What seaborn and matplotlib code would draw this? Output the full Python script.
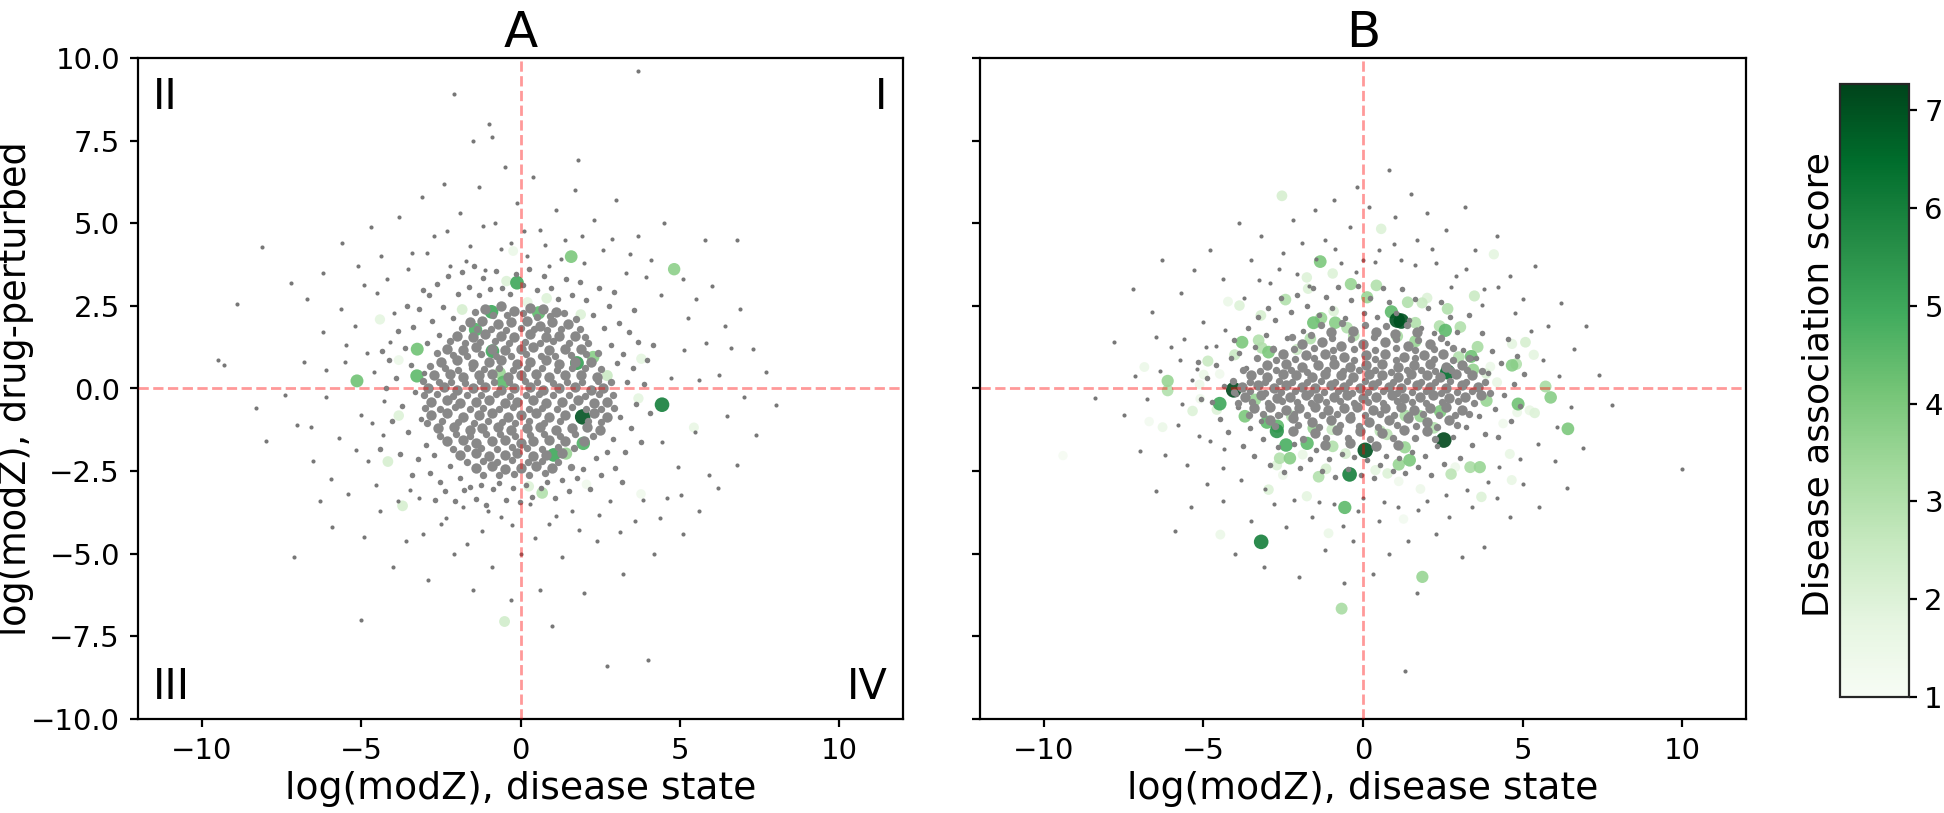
import numpy as np
import pandas as pd
import matplotlib
matplotlib.use('Agg')
import matplotlib.pyplot as plt
import seaborn as sns

# Values. (x, y, score)
a_scored = [
    (4.82, 3.61, 3.7), (-0.11, 3.2, 5), (1.59, 3.99, 4), (-0.91, 2.32, 5), (0.57, 2.29, 4.5),
    (-1.41, 1.78, 4.7), (-3.24, 1.19, 4.2), (-0.88, 1.13, 5), (1.77, 0.77, 5.2), (2.28, 0.95, 3.8),
    (-5.13, 0.23, 4.2), (-3.25, 0.38, 4.5), (-0.54, 0.19, 4.5), (-0.65, 0.47, 3.5), (4.44, -0.49, 6),
    (1.95, -0.86, 7), (1.97, -1.66, 4.7), (1.04, -2.01, 5), (1.43, -1.97, 3.5), (0.68, -3.16, 3),
    (-4.16, -2.21, 2.2), (-4.41, 2.09, 1.8), (-0.23, 4.16, 1.5), (5.44, -1.18, 1.6), (3.78, -3.19, 1.3),
    (2.07, -2.9, 1.3), (0.26, -2.96, 2), (-3.82, -0.82, 2), (-3.82, 0.86, 1.5), (-1.83, 2.39, 2.2),
    (1.89, 2.24, 2), (3.79, 0.9, 1.8), (3.7, -0.3, 1.8), (2.72, 0.39, 2.5), (0.82, 2.73, 2),
    (-0.44, 3.25, 2), (0.22, 2.61, 1.8), (-3.7, -3.55, 2.2), (-0.5, -7.05, 2.3),
]
b_scored = [
    (0.57, 4.83, 2), (4.1, 4.06, 1.8), (-1.34, 3.84, 4), (-0.95, 3.48, 2), (-1.76, 3.36, 2),
    (-0.38, 3.16, 3.5), (0.42, 3.12, 3), (0.13, 2.76, 3.5), (-1.72, 3.02, 2), (-2.43, 2.69, 3),
    (1.4, 2.61, 3), (3.49, 2.8, 2.5), (-4.23, 2.63, 1.5), (-3.87, 2.51, 2), (-3.2, 2.21, 2.2),
    (2.65, 2.41, 3), (0.89, 2.32, 4.5), (1.2, 2.04, 7), (1.07, 2.07, 7), (1.64, 1.99, 3),
    (-1.55, 1.99, 4.2), (-1.31, 2.13, 3.5), (-0.87, 1.99, 3.8), (2.58, 1.76, 4.5), (2.4, 1.89, 3),
    (3.05, 1.86, 3), (-0.29, 1.6, 3), (-3.79, 1.4, 4), (-3.27, 1.46, 3), (-2.96, 1.1, 4),
    (-3.17, 1.23, 3), (1.64, 1.43, 3.5), (3.59, 1.26, 3.2), (5.09, 1.4, 2.2), (4.67, 1.35, 1.8),
    (5.35, 1.02, 1.8), (-4.02, 1.02, 2.5), (-4.86, 0.83, 2.5), (3.39, 0.97, 4.2), (3.0, 0.95, 3),
    (4.67, 0.7, 3.8), (4.8, 0.74, 3), (3.45, 0.57, 3.5), (2.65, 0.5, 6.5), (-6.85, 0.65, 1.5),
    (-6.12, 0.23, 3.5), (-6.12, -0.06, 3), (-4.05, -0.04, 7.2), (5.72, 0.06, 3.2), (5.88, -0.27, 3.8),
    (4.86, -0.47, 4.2), (3.87, -0.37, 3.5), (-4.49, -0.46, 5), (-3.38, -0.34, 3.5), (-5.34, -0.68, 2),
    (5.38, -0.74, 2), (-3.7, -0.84, 4), (-3.01, -1.02, 4.5), (2.42, -0.69, 4), (6.42, -1.22, 4),
    (-6.28, -1.17, 1.5), (-2.68, -1.14, 4.5), (-2.7, -1.29, 5.5), (-1.55, -1.2, 3.5), (2.53, -1.56, 7.2),
    (-2.41, -1.71, 4.8), (-1.75, -1.66, 4.5), (-0.95, -1.75, 3), (0.07, -1.87, 7), (1.31, -1.78, 3.5),
    (-2.61, -2.11, 3), (-2.29, -2.11, 3.8), (1.12, -2.3, 3.5), (1.46, -2.17, 4), (3.36, -2.38, 3.2),
    (3.66, -2.38, 3.5), (-0.42, -2.6, 6), (-1.39, -2.67, 3), (2.76, -2.59, 2.8), (4.66, -2.77, 1.6),
    (3.71, -3.28, 2), (-2.96, -3.06, 2), (-0.57, -3.6, 4.5), (-3.19, -4.64, 6), (-4.47, -4.42, 1.5),
    (1.86, -5.7, 3.5), (-0.67, -6.66, 3.2), (-1.08, -4.38, 1.5), (1.27, -3.95, 1.2), (-2.54, 5.83, 2.2),
    (-9.4, -2.03, 1.1), (-6.7, -1.0, 1.2), (3.47, 0.58, 2.2), (3.99, 0.66, 1.5), (3.86, 0.45, 2),
    (4.2, 0.19, 1.6), (-4.99, 0.42, 1.5), (-4.49, 0.44, 1.3), (-5.12, 0.12, 1.5), (-5.1, -0.31, 1.3),
    (-4.58, -0.64, 2), (4.83, -0.72, 1.5), (5.22, -0.66, 1.6), (4.39, -1.06, 1.3), (4.6, -1.98, 1.6),
    (-1.89, -2.0, 1.6), (-2.7, -2.32, 2), (-2.51, -2.62, 1.4), (-1.16, -2.43, 2.2), (-0.55, -1.97, 2.2),
    (0.39, -2.47, 1.8), (0.77, -2.57, 2), (2.89, -2.38, 1.4), (1.12, -2.81, 1.3), (1.8, -3.04, 1.4),
    (-1.76, -3.26, 1.8), (-2.07, 1.18, 2.5), (-1.65, 1.51, 3), (-0.92, 2.34, 2), (-0.5, 1.84, 3),
    (1.07, 1.58, 3.2), (1.8, -0.84, 3.5), (1.33, -0.82, 3.2), (0.54, -1.29, 2.8), (0.75, -1.39, 2.8),
    (2.22, -1.19, 3), (-2.23, -0.84, 3), (-0.97, -1.24, 2.5), (1.85, 2.59, 2.5), (2.01, 2.74, 2),
]

# gray cloud, thinned: single dots outside, patches for the dense middle
a_gray_dots = [
    (-8.1, 4.29), (-8.9, 2.55), (-9.3, 0.7), (-9.5, 0.85), (-8.3, -0.6), (-8.0, -1.6), (-2.1, 8.9), (3.7, 9.6),
    (-1.0, 8.0), (-1.5, 7.5), (-0.9, 7.6), (1.8, 6.9), (5.8, 4.5), (6.8, 4.5), (2.7, -8.4), (4.0, -8.2),
    (1.0, -7.2), (-5.0, -7.0), (-7.1, -5.1), (-6.3, -3.4), (-7.2, 3.2), (-6.7, 2.7), (-6.2, 3.5), (-5.6, 4.4),
    (-5.1, 3.7), (-4.7, 4.9), (-4.2, 3.3), (-3.8, 5.2), (-3.4, 4.1), (-3.1, 5.8), (-2.7, 4.6), (-2.4, 6.2),
    (-2.2, 3.7), (-1.9, 5.3), (-1.6, 4.3), (-1.3, 6.1), (-1.1, 3.6), (-0.8, 5.0), (-0.5, 6.7), (-0.3, 4.4),
    (-0.1, 5.6), (0.2, 4.0), (0.4, 6.4), (0.6, 4.8), (0.9, 3.7), (1.1, 5.4), (1.4, 4.5), (1.7, 6.0),
    (2.0, 3.8), (2.3, 5.1), (2.6, 4.2), (3.0, 5.7), (3.3, 3.5), (3.7, 4.6), (4.1, 3.9), (4.5, 5.0),
    (5.1, 3.3), (5.5, 2.7), (6.0, 3.1), (6.4, 1.9), (6.9, 2.4), (7.3, 1.2), (7.7, 0.5), (8.0, -0.5),
    (7.4, -1.4), (6.8, -2.3), (6.2, -3.0), (5.6, -3.7), (5.1, -4.4), (4.6, -3.3), (4.2, -5.0), (3.6, -4.0),
    (3.2, -5.6), (2.8, -3.4), (2.4, -4.6), (2.0, -6.2), (1.6, -3.7), (1.3, -5.1), (0.9, -4.1), (0.6, -6.1),
    (0.3, -3.5), (0.0, -5.0), (-0.3, -6.4), (-0.6, -3.9), (-0.9, -5.4), (-1.2, -4.3), (-1.5, -6.1), (-1.8, -3.6),
    (-2.1, -5.0), (-2.5, -4.1), (-2.9, -5.8), (-3.2, -3.3), (-3.6, -4.6), (-4.0, -5.4), (-4.4, -3.7), (-4.9, -4.5),
    (-5.4, -3.2), (-5.9, -4.2), (-6.5, -2.2), (-7.0, -1.1), (-7.4, -0.2), (-6.8, 0.8), (-6.2, 1.7), (-5.7, -1.5),
    (-5.5, 0.8), (-5.2, 1.9), (-5.0, -0.8), (-4.8, -2.2), (-4.6, 0.5), (-4.5, 2.9), (-4.3, -1.4), (-4.1, 1.4),
    (-6.1, 0.57), (-5.63, 2.41), (-4.91, 3.13), (-4.37, 4.02), (-3.52, 3.63), (-2.93, 4.11), (-2.31, 4.77), (-1.72, 3.87),
    (-1.18, 4.92), (-0.62, 4.21), (0.11, 4.77), (0.78, 4.33), (1.27, 3.91), (1.93, 4.62), (2.88, 4.51), (3.42, 4.07),
    (3.93, 3.37), (4.41, 2.83), (5.27, 2.12), (5.83, 1.37), (6.22, 0.41), (5.47, -1.33), (5.92, -2.61), (5.03, -3.21),
    (4.37, -3.91), (3.83, -3.37), (3.12, -4.33), (2.47, -3.83), (1.82, -4.27), (1.11, -3.87), (0.47, -4.52), (-0.27, -4.13),
    (-1.03, -3.72), (-1.67, -4.71), (-2.33, -3.93), (-3.07, -4.41), (-3.83, -3.41), (-4.53, -2.93), (-5.17, -1.87), (-5.93, -2.73),
    (-6.57, -1.17), (-6.11, -0.27), (-5.47, 1.33), (-4.83, 1.07), (-4.27, -0.37), (-4.67, -1.03), (-3.97, 2.27), (-3.47, -3.07),
    (6.61, 1.23), (7.01, -0.27), (6.47, -0.83), (5.61, 0.27), (5.13, 1.17), (4.73, 0.33), (4.43, -1.63), (4.93, -2.37),
]
a_gray_mid = [
    (-3.9, 0.31), (-3.71, -0.52), (-3.63, 1.23), (-3.52, -1.31), (-3.44, 0.72), (-3.37, 1.87), (-3.31, -0.11), (-3.23, -2.13),
    (-3.17, 2.41), (-3.11, -0.93), (-3.03, 0.47), (-2.97, -1.71), (-2.93, 1.37), (-2.87, 2.83), (-2.83, -2.57), (-2.77, 2.03),
    (-2.71, -2.01), (-2.63, 3.17), (-2.57, 1.61), (-2.51, -2.83), (-2.43, 2.47), (-2.37, -3.11), (-2.29, 3.41), (-2.21, -2.33),
    (-2.13, 2.13), (-2.07, -3.41), (-1.97, 2.87), (-1.91, -2.71), (-1.83, 3.51), (-1.77, -3.07), (-1.63, 3.07), (-1.57, -2.97),
    (-1.47, 3.71), (-1.41, -3.33), (-1.31, 2.83), (-1.23, -2.93), (-1.17, 3.33), (-1.07, -3.51), (-0.97, 3.01), (-0.87, -3.03),
    (-0.77, 3.57), (-0.67, -2.87), (-0.57, 3.03), (-0.47, -3.37), (-0.33, 2.87), (-0.23, -3.01), (-0.13, 3.47), (-0.03, -3.43),
    (0.07, 3.13), (0.17, -2.91), (0.27, 3.61), (0.37, -3.27), (0.51, 2.97), (0.63, -3.01), (0.73, 3.41), (0.83, -2.83),
    (0.97, 3.03), (1.07, -3.31), (1.19, 2.71), (1.31, -2.77), (1.43, 3.31), (1.53, -3.11), (1.63, 2.83), (1.77, -2.71),
    (1.87, 3.21), (1.97, -2.43), (2.07, 2.67), (2.17, -3.03), (2.27, 2.21), (2.37, -2.11), (2.47, 3.03), (2.53, -2.63),
    (2.63, 1.83), (2.71, -1.91), (2.77, 2.51), (2.83, 1.31), (2.91, -1.53), (2.97, -2.41), (3.03, 0.77), (3.09, 1.97),
    (3.13, -0.87), (3.21, 1.03), (3.27, -1.93), (3.33, 0.21), (3.39, 1.71), (3.47, -1.21), (3.53, 0.63), (3.61, -0.47),
    (3.69, 1.41), (3.77, -1.63), (3.87, 0.13), (3.97, 0.87), (4.07, -0.73), (4.17, 1.31), (-4.13, 0.87), (-4.03, -0.97),
    (-4.21, 0.03), (-4.33, 1.13), (-4.41, -1.83), (-3.79, -1.97), (-3.83, 1.73), (-3.57, 2.51), (-3.41, -2.61), (3.57, 2.37),
    (2.93, 2.93), (3.17, -2.83), (-2.67, -3.37), (-3.07, 2.97),
]
a_gray_core = [
    (-1.1, 2.4), (-0.6, 2.5), (-0.2, 2.35), (0.3, 2.45), (0.7, 2.4), (1.1, 2.3),
    (-1.6, 2.0), (-1.2, 2.05), (-0.7, 1.95), (-0.3, 2.0), (0.2, 2.05), (0.6, 1.9), (1.0, 2.0), (1.5, 1.95),
    (-2.0, 1.6), (-1.5, 1.55), (-1.1, 1.65), (-0.6, 1.6), (-0.2, 1.55), (0.3, 1.65), (0.8, 1.55), (1.2, 1.6), (1.7, 1.6),
    (-2.3, 1.2), (-1.8, 1.15), (-1.4, 1.25), (-0.9, 1.2), (-0.5, 1.15), (0.0, 1.2), (0.4, 1.25), (0.9, 1.15), (1.4, 1.2), (1.9, 1.2),
    (-2.5, 0.8), (-2.0, 0.85), (-1.5, 0.75), (-1.0, 0.8), (-0.6, 0.85), (-0.1, 0.75), (0.3, 0.8), (0.8, 0.85), (1.2, 0.75), (1.7, 0.8), (2.2, 0.8),
    (-2.7, 0.4), (-2.2, 0.45), (-1.8, 0.35), (-1.3, 0.4), (-0.9, 0.45), (-0.4, 0.35), (0.0, 0.4), (0.5, 0.45), (0.9, 0.35), (1.4, 0.4), (1.9, 0.4), (2.4, 0.35),
    (-2.9, 0.0), (-2.4, 0.05), (-2.0, -0.05), (-1.5, 0.0), (-1.1, 0.05), (-0.6, -0.05), (-0.2, 0.0), (0.3, 0.05), (0.7, -0.05), (1.2, 0.0), (1.7, 0.05), (2.2, -0.05), (2.6, 0.0),
    (-2.8, -0.4), (-2.3, -0.35), (-1.9, -0.45), (-1.4, -0.4), (-1.0, -0.35), (-0.5, -0.45), (-0.1, -0.4), (0.4, -0.35), (0.8, -0.45), (1.3, -0.4), (1.8, -0.35), (2.3, -0.45), (2.7, -0.4),
    (-2.8, -0.8), (-2.3, -0.75), (-1.8, -0.85), (-1.3, -0.8), (-0.9, -0.75), (-0.4, -0.85), (0.0, -0.8), (0.5, -0.75), (0.9, -0.85), (1.4, -0.8), (2.3, -0.75), (2.7, -0.85),
    (-2.6, -1.2), (-2.1, -1.15), (-1.6, -1.25), (-1.2, -1.2), (-0.7, -1.15), (-0.3, -1.25), (0.2, -1.2), (0.6, -1.15), (1.1, -1.25), (1.6, -1.2), (2.1, -1.15), (2.5, -1.25),
    (-2.3, -1.6), (-1.8, -1.55), (-1.4, -1.65), (-0.9, -1.6), (-0.5, -1.55), (0.0, -1.65), (0.4, -1.6), (0.9, -1.55), (1.4, -1.6), (2.0, -1.6),
    (-1.9, -2.0), (-1.4, -1.95), (-1.0, -2.05), (-0.5, -2.0), (-0.1, -1.95), (0.4, -2.05), (0.8, -2.0), (1.3, -1.95),
    (-1.4, -2.4), (-0.9, -2.35), (-0.5, -2.45), (0.0, -2.4), (0.5, -2.35), (1.0, -2.4),
]
a_gray_fill = [
    (-1.43, 2.31), (-0.87, 2.21), (-0.41, 2.23), (0.07, 2.27), (0.52, 2.17), (0.93, 2.19), (1.37, 2.27), (1.73, 2.11),
    (-1.83, 1.83), (-1.37, 1.79), (-0.93, 1.81), (-0.47, 1.77), (0.03, 1.83), (0.43, 1.79), (0.83, 1.77), (1.27, 1.81), (1.87, 1.79), (2.03, 1.57),
    (-2.21, 1.43), (-1.73, 1.37), (-1.27, 1.41), (-0.81, 1.43), (-0.37, 1.37), (0.13, 1.41), (0.61, 1.39), (1.03, 1.43), (1.53, 1.37), (2.11, 1.39),
    (-2.61, 1.07), (-2.13, 1.01), (-1.67, 0.97), (-1.23, 1.03), (-0.77, 0.99), (-0.31, 0.97), (0.17, 1.03), (0.63, 0.99), (1.07, 0.97), (1.57, 1.01), (2.07, 1.03), (2.43, 1.07),
    (-2.83, 0.67), (-2.37, 0.61), (-1.97, 0.57), (-1.53, 0.63), (-1.13, 0.59), (-0.67, 0.63), (-0.23, 0.57), (0.21, 0.61), (0.69, 0.63), (1.13, 0.57), (1.63, 0.61), (2.03, 0.63), (2.53, 0.59),
    (-3.07, 0.23), (-2.57, 0.21), (-2.17, 0.19), (-1.73, 0.17), (-1.27, 0.23), (-0.83, 0.21), (-0.37, 0.19), (0.13, 0.23), (0.53, 0.21), (1.03, 0.17), (1.47, 0.21), (1.93, 0.19), (2.43, 0.23), (2.83, 0.21),
    (-3.03, -0.19), (-2.63, -0.17), (-2.13, -0.23), (-1.67, -0.19), (-1.23, -0.21), (-0.77, -0.17), (-0.33, -0.23), (0.17, -0.19), (0.57, -0.17), (1.03, -0.21), (1.53, -0.19), (2.03, -0.23), (2.47, -0.17), (2.91, -0.21),
    (-3.01, -0.59), (-2.53, -0.61), (-2.07, -0.57), (-1.57, -0.63), (-1.17, -0.59), (-0.67, -0.61), (-0.23, -0.57), (0.27, -0.63), (0.67, -0.59), (1.13, -0.61), (1.63, -0.57), (2.07, -0.61), (2.53, -0.63), (2.93, -0.59),
    (-2.93, -1.03), (-2.47, -0.97), (-1.97, -1.01), (-1.47, -1.03), (-1.03, -0.97), (-0.57, -1.01), (-0.17, -1.03), (0.27, -0.97), (0.73, -1.03), (1.23, -0.99), (2.13, -0.97), (2.53, -1.01),
    (-2.53, -1.43), (-2.03, -1.37), (-1.57, -1.43), (-1.07, -1.39), (-0.63, -1.37), (-0.17, -1.43), (0.31, -1.41), (0.73, -1.37), (1.23, -1.43), (1.71, -1.39), (2.27, -1.43),
    (-2.13, -1.83), (-1.67, -1.79), (-1.23, -1.81), (-0.73, -1.83), (-0.27, -1.77), (0.21, -1.81), (0.67, -1.83), (1.17, -1.77), (1.67, -1.81),
    (-1.67, -2.23), (-1.17, -2.19), (-0.73, -2.21), (-0.27, -2.17), (0.23, -2.23), (0.67, -2.19), (1.17, -2.21), (1.57, -2.37),
    (-1.17, -2.61), (-0.67, -2.63), (-0.21, -2.59), (0.27, -2.63), (0.77, -2.57),
]
b_gray_dots = [
    (-7.8, 1.4), (-8.4, -0.3), (-7.2, 3.0), (-6.6, 2.3), (-6.3, 3.9), (-5.7, 2.9), (-5.3, 3.6), (-4.8, 4.2),
    (-4.4, 3.3), (-3.9, 5.0), (-3.5, 3.9), (-3.2, 4.6), (-2.9, 3.2), (-2.5, 4.1), (-2.2, 5.1), (-1.9, 4.4),
    (-1.7, 3.1), (-1.5, 5.4), (-1.2, 4.5), (-0.9, 5.7), (-0.7, 3.8), (-0.4, 4.9), (-0.2, 6.1), (0.0, 3.9),
    (0.2, 5.5), (0.5, 4.2), (0.8, 6.6), (1.0, 5.2), (1.2, 3.9), (1.5, 5.9), (1.7, 4.5), (2.0, 5.3),
    (2.3, 3.8), (2.6, 4.8), (2.9, 3.4), (3.2, 5.5), (3.5, 4.2), (3.8, 3.0), (4.2, 4.6), (4.6, 3.4),
    (5.0, 2.7), (5.4, 3.7), (5.8, 1.9), (6.2, 2.6), (6.6, 1.2), (7.0, 1.9), (7.4, 0.4), (7.8, -0.5),
    (10.0, -2.45), (6.9, -1.8), (6.4, -3.0), (6.0, -2.2), (5.5, -3.6), (5.0, -2.9), (4.6, -3.9), (4.2, -3.3),
    (3.8, -4.8), (3.4, -3.6), (3.1, -5.1), (2.7, -3.9), (2.3, -4.4), (2.0, -3.4), (1.7, -6.2), (1.4, -4.6),
    (1.1, -3.6), (0.8, -5.0), (0.5, -4.0), (0.3, -5.6), (0.0, -3.3), (-0.3, -4.6), (-0.6, -5.9), (-0.9, -3.5),
    (-1.2, -4.9), (-1.6, -3.9), (-2.0, -5.7), (-2.4, -4.2), (-2.8, -3.5), (-3.1, -5.4), (-3.5, -4.0), (-4.0, -5.0),
    (-4.4, -3.4), (-4.9, -2.9), (-5.4, -3.6), (-5.9, -4.3), (-6.5, -3.1), (-7.0, -1.9), (-7.5, -0.8), (-6.2, -2.0),
    (-5.8, -1.1), (-5.6, 1.5), (-5.5, -2.3), (-5.2, 0.6), (-5.0, 2.0), (-4.8, -1.6), (-4.6, 1.3), (-4.4, -2.4),
    (1.31, -8.55), (-0.63, -4.17), (-0.17, -3.71), (0.67, -3.43), (1.73, -3.67), (2.61, -3.23), (3.27, -3.07), (3.91, -2.83),
    (-1.37, -3.43), (-2.17, -3.37), (-3.07, -3.03), (-3.83, -2.77), (-4.37, -1.83), (-5.13, -1.43), (-5.67, -0.47), (-5.37, 0.27),
    (-5.73, 0.87), (-4.93, 1.27), (-4.33, 1.77), (-3.73, 2.73), (-3.27, 3.27), (-2.63, 3.63), (-2.07, 3.47), (-1.47, 3.93),
    (-0.87, 4.23), (-0.23, 3.53), (0.37, 3.83), (0.97, 4.37), (1.63, 3.73), (2.17, 4.23), (2.77, 3.07), (3.23, 3.63),
    (3.73, 2.53), (4.23, 3.07), (4.77, 2.27), (5.27, 1.73), (5.63, 0.87), (6.13, 0.37), (6.53, -0.57), (6.07, -1.17),
    (5.47, -1.67), (4.93, -2.13), (4.27, -2.37), (-6.77, -0.33), (-6.37, 0.53), (-6.03, 1.27), (-6.47, 1.57), (-7.13, 0.37),
]
b_gray_mid = [
    (-4.9, 0.33), (-4.73, -0.41), (-4.61, 0.71), (-4.47, -0.93), (-4.37, 0.07), (-4.23, -1.33), (-4.13, 0.93), (-4.03, 1.47),
    (-3.93, -0.57), (-3.87, 1.07), (-3.77, -1.73), (-3.67, 0.63), (-3.61, 1.83), (-3.53, -1.21), (-3.43, -2.03), (-3.37, 1.27),
    (-3.29, 2.17), (-3.21, -0.97), (-3.13, -1.53), (-3.03, 1.63), (-2.97, 2.43), (-2.91, -2.31), (-2.83, 1.23), (-2.77, 2.07),
    (-2.67, -1.77), (-2.57, 2.73), (-2.47, -2.53), (-2.37, 1.53), (-2.27, 2.31), (-2.17, -1.67), (-2.07, 2.83), (-1.97, -2.41),
    (-1.87, 1.73), (-1.77, 2.51), (-1.67, -2.13), (-1.57, 3.03), (-1.47, -1.87), (-1.37, 2.23), (-1.27, -2.51), (-1.17, 2.77),
    (-1.07, -2.13), (-0.97, 2.43), (-0.87, -2.67), (-0.77, 3.07), (-0.67, -1.97), (-0.57, 2.13), (-0.47, -2.43), (-0.37, 2.67),
    (-0.27, -2.07), (-0.17, 3.11), (-0.07, -2.61), (0.03, 2.27), (0.13, -2.17), (0.23, 2.73), (0.33, -2.71), (0.43, 2.17),
    (0.53, -2.31), (0.63, 3.03), (0.73, -2.03), (0.83, 2.61), (0.93, -2.51), (1.03, 2.27), (1.13, -2.09), (1.23, 3.01),
    (1.33, -2.57), (1.43, 2.07), (1.53, -1.93), (1.63, 2.71), (1.73, -2.37), (1.83, 1.83), (1.93, -2.03), (2.03, 2.43),
    (2.13, -2.61), (2.23, 1.67), (2.33, -1.73), (2.43, 2.61), (2.53, -2.27), (2.63, 1.37), (2.73, 2.17), (2.83, -1.47),
    (2.93, 1.71), (3.03, -2.11), (3.13, 1.17), (3.23, -1.17), (3.33, 2.23), (3.43, -1.71), (3.53, 0.91), (3.63, -0.83),
    (3.73, 1.67), (3.83, -1.37), (3.93, 0.47), (4.03, 1.13), (4.13, -0.61), (4.23, -1.47), (4.33, 0.77), (4.43, -0.21),
    (4.53, 1.51), (4.63, -0.97), (4.73, 0.13), (4.83, 0.97), (4.93, -0.53), (5.03, 0.43), (-5.07, -0.33), (-5.17, 0.81),
    (-2.61, -0.81), (3.37, 0.93), (-3.57, 0.21), (-3.97, -0.17),
]
b_gray_core = [
    (-1.0, 1.7), (-0.3, 1.75), (0.4, 1.7), (1.0, 1.65), (1.7, 1.7),
    (-1.9, 1.35), (-1.3, 1.4), (-0.7, 1.3), (0.0, 1.35), (0.7, 1.4), (1.4, 1.3), (2.1, 1.35),
    (-2.5, 1.05), (-1.8, 1.0), (-1.2, 1.05), (-0.6, 0.95), (0.1, 1.0), (0.7, 1.05), (1.3, 0.95), (1.9, 1.0), (2.5, 1.05),
    (-3.0, 0.7), (-2.4, 0.75), (-1.9, 0.65), (-1.4, 0.7), (-0.9, 0.75), (-0.4, 0.65), (0.1, 0.7), (0.6, 0.75), (1.1, 0.65), (1.6, 0.7), (2.1, 0.75), (2.6, 0.65), (3.1, 0.7),
    (-3.5, 0.4), (-3.0, 0.35), (-2.5, 0.45), (-2.1, 0.4), (-1.6, 0.35), (-1.2, 0.45), (-0.7, 0.4), (-0.3, 0.35), (0.2, 0.45), (0.6, 0.4), (1.1, 0.35), (1.5, 0.45), (2.0, 0.4), (2.4, 0.35), (2.9, 0.45), (3.4, 0.4),
    (-3.8, 0.05), (-3.3, 0.1), (-2.8, 0.0), (-2.4, 0.1), (-1.9, 0.05), (-1.5, 0.0), (-1.0, 0.1), (-0.6, 0.05), (-0.1, 0.0), (0.3, 0.1), (0.8, 0.05), (1.2, 0.0), (1.7, 0.1), (2.1, 0.05), (2.6, 0.0), (3.1, 0.1), (3.6, 0.05),
    (-3.7, -0.25), (-3.2, -0.2), (-2.7, -0.3), (-2.3, -0.25), (-1.8, -0.2), (-1.4, -0.3), (-0.9, -0.25), (-0.5, -0.2), (0.0, -0.3), (0.4, -0.25), (0.9, -0.2), (1.3, -0.3), (1.8, -0.25), (2.2, -0.2), (2.7, -0.3), (3.2, -0.25), (3.7, -0.2),
    (-3.4, -0.6), (-2.9, -0.55), (-2.4, -0.65), (-2.0, -0.6), (-1.5, -0.55), (-1.1, -0.65), (-0.6, -0.6), (-0.2, -0.55), (0.3, -0.65), (0.7, -0.6), (1.2, -0.55), (1.6, -0.65), (2.1, -0.6), (2.6, -0.55), (3.1, -0.65),
    (-2.9, -0.95), (-2.2, -0.9), (-1.6, -1.0), (-1.0, -0.95), (-0.4, -0.9), (0.2, -1.0), (0.8, -0.95), (1.4, -0.9), (2.0, -1.0), (2.7, -0.95),
    (-2.2, -1.3), (-1.5, -1.35), (-0.8, -1.25), (-0.1, -1.3), (0.6, -1.35), (1.3, -1.25), (2.0, -1.3),
    (-1.2, -1.7), (-0.4, -1.65), (0.4, -1.75), (1.1, -1.7),
]
b_gray_fill = [
    (-1.33, 1.93), (-0.67, 1.97), (0.07, 1.93), (0.73, 1.89), (1.37, 1.91),
    (-2.23, 1.57), (-1.63, 1.61), (-0.97, 1.53), (-0.37, 1.51), (0.33, 1.57), (1.03, 1.51), (1.73, 1.47), (2.43, 1.53),
    (-2.83, 1.21), (-2.17, 1.19), (-1.53, 1.23), (-0.93, 1.17), (-0.27, 1.21), (0.37, 1.17), (1.03, 1.23), (1.63, 1.17), (2.23, 1.19), (2.83, 1.23),
    (-3.33, 0.91), (-2.73, 0.87), (-2.13, 0.89), (-1.53, 0.91), (-0.93, 0.93), (-0.27, 0.87), (0.37, 0.89), (1.03, 0.87), (1.63, 0.91), (2.23, 0.89), (2.83, 0.87), (3.33, 0.91),
    (-3.77, 0.57), (-3.23, 0.53), (-2.73, 0.57), (-2.27, 0.55), (-1.77, 0.51), (-1.13, 0.57), (-0.63, 0.53), (-0.13, 0.55), (0.37, 0.57), (0.87, 0.51), (1.37, 0.55), (1.83, 0.57), (2.27, 0.53), (2.77, 0.55), (3.27, 0.57), (3.73, 0.53),
    (-4.07, 0.23), (-3.53, 0.21), (-3.07, 0.19), (-2.63, 0.23), (-2.23, 0.21), (-1.77, 0.19), (-1.33, 0.23), (-0.87, 0.21), (-0.43, 0.19), (0.07, 0.23), (0.47, 0.21), (0.93, 0.19), (1.37, 0.23), (1.83, 0.21), (2.27, 0.19), (2.73, 0.23), (3.23, 0.21), (3.83, 0.19),
    (-4.03, -0.11), (-3.53, -0.09), (-3.07, -0.13), (-2.57, -0.11), (-2.13, -0.09), (-1.67, -0.13), (-1.23, -0.11), (-0.77, -0.09), (-0.33, -0.13), (0.17, -0.11), (0.63, -0.09), (1.07, -0.13), (1.53, -0.11), (1.97, -0.09), (2.43, -0.13), (2.93, -0.11), (3.43, -0.09), (3.97, -0.13),
    (-3.93, -0.43), (-3.47, -0.41), (-2.97, -0.43), (-2.53, -0.39), (-2.07, -0.41), (-1.63, -0.43), (-1.17, -0.41), (-0.73, -0.39), (-0.27, -0.43), (0.17, -0.41), (0.63, -0.43), (1.07, -0.39), (1.53, -0.41), (1.97, -0.43), (2.47, -0.41), (2.97, -0.39), (3.47, -0.43),
    (-3.57, -0.79), (-3.13, -0.77), (-2.67, -0.81), (-2.17, -0.77), (-1.77, -0.79), (-1.27, -0.81), (-0.83, -0.77), (-0.37, -0.79), (0.07, -0.81), (0.53, -0.77), (0.97, -0.79), (1.43, -0.81), (1.87, -0.77), (2.37, -0.79), (2.87, -0.81), (3.33, -0.77),
    (-2.77, -1.13), (-2.03, -1.11), (-1.37, -1.17), (-0.73, -1.11), (-0.13, -1.13), (0.47, -1.17), (1.07, -1.11), (1.67, -1.13), (2.33, -1.17), (2.93, -1.11),
    (-1.87, -1.53), (-1.17, -1.51), (-0.47, -1.49), (0.23, -1.53), (0.93, -1.51), (1.63, -1.49), (2.27, -1.53),
]

x_ticks = [-10, -5, 0, 5, 10]
y_ticks = [-10.0, -7.5, -5.0, -2.5, 0.0, 2.5, 5.0, 7.5, 10.0]
cbar_ticks = [1, 2, 3, 4, 5, 6, 7]
score_min, score_max = 1, 7.27
panels = [('A', a_scored, a_gray_dots, a_gray_mid, a_gray_core, a_gray_fill),
          ('B', b_scored, b_gray_dots, b_gray_mid, b_gray_core, b_gray_fill)]
quadrants = [('II', 0.02, 0.923, 'left'), ('I', 0.98, 0.923, 'right'),
             ('III', 0.02, 0.03, 'left'), ('IV', 0.98, 0.03, 'right')]

sns.set_style('ticks')
plt.rcParams['font.family'] = 'DejaVu Sans'
plt.rcParams.update({'text.color': 'black', 'axes.labelcolor': 'black',
                     'xtick.color': 'black', 'ytick.color': 'black'})

W, H = 1944, 813
fig = plt.figure(figsize=(W / 200, H / 200), dpi=200)
ax_a = fig.add_axes([138 / W, 1 - 719 / H, 765 / W, 661 / H])
ax_b = fig.add_axes([980 / W, 1 - 719 / H, 766 / W, 661 / H])
cax = fig.add_axes([1840 / W, 1 - 697 / H, 69 / W, 613 / H])

for ax, (name, scored, dots, mid, core, fill) in zip([ax_a, ax_b], panels):
    sc = pd.DataFrame(scored, columns=['x', 'y', 'score'])
    sns.scatterplot(data=sc.sort_values('score'), x='x', y='y', hue='score', size='score',
                    palette='Greens', hue_norm=(score_min, score_max),
                    sizes=(11, 32), size_norm=(score_min, score_max),
                    linewidth=0, alpha=0.9, legend=False, ax=ax, zorder=1)
    d = pd.DataFrame(dots, columns=['x', 'y'])
    sns.scatterplot(data=d, x='x', y='y', color='#777777', s=2.2, linewidth=0, ax=ax, zorder=2)
    m = pd.DataFrame(mid, columns=['x', 'y'])
    sns.scatterplot(data=m, x='x', y='y', color='#808080', s=4, linewidth=0, ax=ax, zorder=2)
    c = pd.DataFrame(core, columns=['x', 'y'])
    sns.scatterplot(data=c, x='x', y='y', color='#888888', s=14, linewidth=0, ax=ax, zorder=2)
    f = pd.DataFrame(fill, columns=['x', 'y'])
    sns.scatterplot(data=f, x='x', y='y', color='#888888', s=7, linewidth=0, ax=ax, zorder=2)
    ax.axhline(0, color='red', ls='--', lw=1, alpha=0.4, zorder=3)
    ax.axvline(0, color='red', ls='--', lw=1, alpha=0.4, zorder=3)
    ax.set_xlim(-12, 12)
    ax.set_ylim(-10, 10)
    ax.set_xticks(x_ticks)
    ax.set_yticks(y_ticks)
    ax.tick_params(labelsize=10.5, width=0.8, length=3)
    ax.set_xlabel('log(modZ), disease state', fontsize=13.6, labelpad=2)
    ax.set_title(name, fontsize=18, pad=4)
    for spine in ax.spines.values():
        spine.set_linewidth(0.8)
        spine.set_color('black')

ax_a.set_ylabel('log(modZ), drug-perturbed', fontsize=13.2, labelpad=-1)
ax_b.set_ylabel('')
ax_b.tick_params(labelleft=False)
for label, qx, qy, ha in quadrants:
    ax_a.text(qx, qy, label, transform=ax_a.transAxes, ha=ha, va='baseline', fontsize=15)

sm = plt.cm.ScalarMappable(cmap='Greens', norm=plt.Normalize(score_min, score_max))
cbar = fig.colorbar(sm, cax=cax, ticks=cbar_ticks)
cbar.ax.tick_params(labelsize=10.5, width=0.8, length=3, pad=2.5)
cbar.outline.set_linewidth(0.8)
cbar.set_label('Disease association score', fontsize=13)
cbar.ax.yaxis.set_label_position('left')
cbar.ax.yaxis.set_label_coords(-0.06, 0.51)

fig.savefig('out.png', dpi=200)
